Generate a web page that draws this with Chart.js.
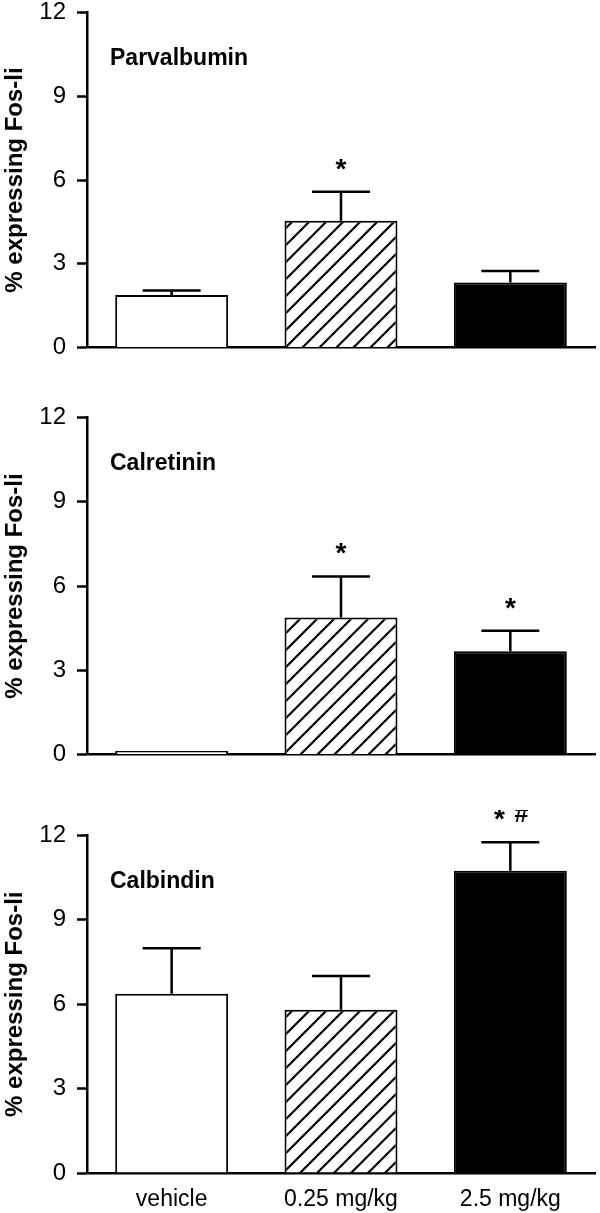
<!DOCTYPE html>
<html>
<head>
<meta charset="utf-8">
<script src="https://cdn.jsdelivr.net/npm/chart.js@4.4.0/dist/chart.umd.min.js"></script>
<style>
  body { margin: 0; background: #fff; width: 600px; height: 1213px; position: relative; overflow: hidden; }
  canvas { position: absolute; left: 0; }
</style>
</head>
<body>
<canvas id="c1" width="600" height="386" style="top:-13px"></canvas>
<canvas id="c2" width="600" height="388" style="top:392px"></canvas>
<canvas id="c3" width="600" height="403" style="top:810px"></canvas>
<script>
const groups = ['vehicle', '0.25 mg/kg', '2.5 mg/kg']
const yTicks = [0, 3, 6, 9, 12]

const parvMean = [1.88, 4.54, 2.33]
const parvSem = [0.16, 1.04, 0.41]
const parvMarks = ['', '*', '']

const calrMean = [0.13, 4.88, 3.68]
const calrSem = [0, 1.46, 0.73]
const calrMarks = ['', '*', '*']

const calbMean = [6.37, 5.8, 10.74]
const calbSem = [1.62, 1.2, 1.02]
const calbMarks = ['', '', '* #']

const FONT = 'Liberation Sans, Arial, sans-serif'

function hatch(ctx) {
  const s = 17
  const c = document.createElement('canvas')
  c.width = s
  c.height = s
  const g = c.getContext('2d')
  g.fillStyle = '#fff'
  g.fillRect(0, 0, s, s)
  g.strokeStyle = '#000'
  g.lineWidth = 2.2
  g.beginPath()
  g.moveTo(0, s); g.lineTo(s, 0)
  g.moveTo(-2, 2); g.lineTo(2, -2)
  g.moveTo(s - 2, s + 2); g.lineTo(s + 2, s - 2)
  g.stroke()
  return ctx.createPattern(c, 'repeat')
}

// error bars, significance marks and the panel name
const extras = {
  id: 'extras',
  afterDatasetsDraw(chart, args, opts) {
    const ctx = chart.ctx
    const y = chart.scales.y
    const bars = chart.getDatasetMeta(0).data
    ctx.save()
    ctx.strokeStyle = '#000'
    ctx.fillStyle = '#000'
    ctx.lineWidth = 2.5
    bars.forEach((bar, i) => {
      const top = y.getPixelForValue(opts.mean[i] + opts.sem[i])
      if (opts.sem[i] > 0) {
        ctx.beginPath()
        ctx.moveTo(bar.x, bar.y)
        ctx.lineTo(bar.x, top)
        ctx.moveTo(bar.x - 29, top)
        ctx.lineTo(bar.x + 29, top)
        ctx.stroke()
      }
      if (opts.marks[i]) {
        const parts = opts.marks[i].split(' ')
        const cy = top - 29
        ctx.textAlign = 'center'
        ctx.textBaseline = 'alphabetic'
        parts.forEach((p, k) => {
          const px = bar.x + (k - (parts.length - 1) / 2) * 22
          if (p === '*') {
            ctx.font = 'bold 28px ' + FONT
            ctx.fillText(p, px, cy + 15)
          } else {
            ctx.font = 'bold 25px ' + FONT
            ctx.fillText(p, px, cy + 9)
          }
        })
      }
    })
    ctx.font = 'bold 23px ' + FONT
    ctx.textAlign = 'left'
    ctx.textBaseline = 'middle'
    ctx.fillText(opts.label, chart.chartArea.left + 23, chart.chartArea.top + 46)
    ctx.restore()
  }
}

function makeChart(id, label, mean, sem, marks, showX) {
  const ctx = document.getElementById(id).getContext('2d')
  return new Chart(ctx, {
    type: 'bar',
    data: {
      labels: groups,
      datasets: [{
        data: mean,
        backgroundColor: ['#ffffff', hatch(ctx), '#000000'],
        borderColor: '#000',
        borderWidth: 2,
        barPercentage: 0.667,
        categoryPercentage: 1
      }]
    },
    options: {
      responsive: false,
      animation: false,
      layout: {padding: {top: 20, right: 5, bottom: 2, left: 0}},
      plugins: {
        legend: {display: false},
        tooltip: {enabled: false},
        extras: {label: label, mean: mean, sem: sem, marks: marks}
      },
      scales: {
        x: {
          grid: {display: false},
          border: {color: '#000', width: 2.5},
          ticks: {display: showX, color: '#000', font: {family: FONT, size: 23}, padding: 5},
          afterFit: s => { s.height = showX ? 38 : 0 }
        },
        y: {
          min: 0,
          max: 12,
          afterBuildTicks: s => { s.ticks = yTicks.map(v => ({value: v})) },
          grid: {drawOnChartArea: false, tickLength: 10, tickWidth: 2.5, tickColor: '#000'},
          border: {color: '#000', width: 2.5},
          ticks: {color: '#000', font: {family: FONT, size: 24}, padding: 11},
          title: {
            display: true,
            text: '% expressing Fos-li',
            color: '#000',
            font: {family: FONT, size: 24, weight: 'bold'},
            padding: {top: 1, bottom: 0}
          },
          afterFit: s => { s.width = 87 }
        }
      }
    },
    plugins: [extras]
  })
}

makeChart('c1', 'Parvalbumin', parvMean, parvSem, parvMarks, false)
makeChart('c2', 'Calretinin', calrMean, calrSem, calrMarks, false)
makeChart('c3', 'Calbindin', calbMean, calbSem, calbMarks, true)
</script>
</body>
</html>
